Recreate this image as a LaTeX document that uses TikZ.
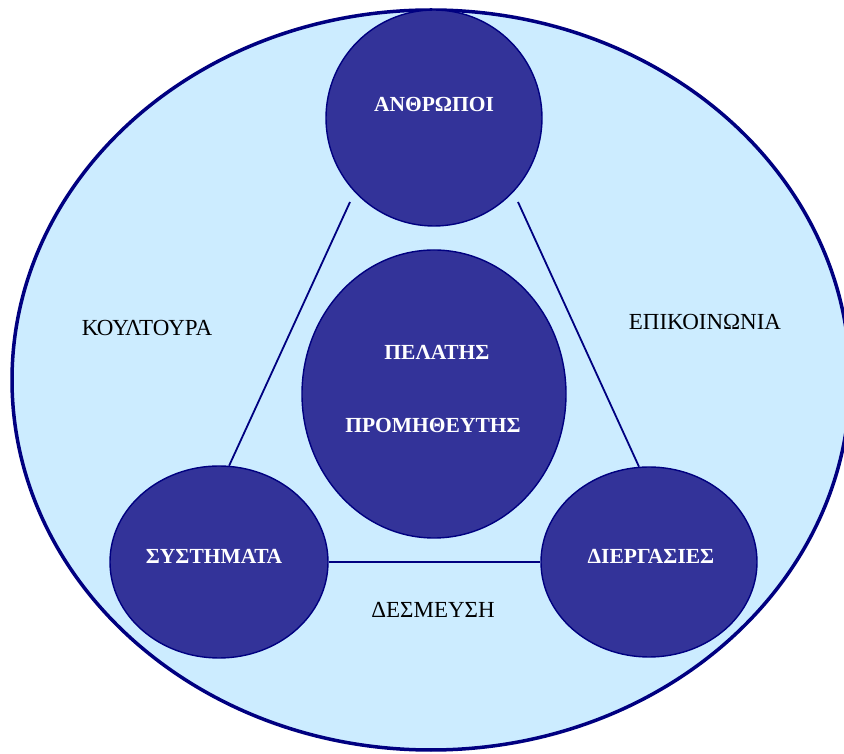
\documentclass[tikz,border=0pt]{standalone}
\usepackage{fontspec}
\setmainfont{Liberation Serif}
\usetikzlibrary{shapes.geometric}
\definecolor{outerfill}{RGB}{204,236,255}
\definecolor{edge}{RGB}{0,0,128}
\definecolor{blob}{RGB}{51,51,153}
\tikzset{
  x=1pt, y=1pt,
  blobnode/.style={ellipse, draw=edge, line width=1.4pt, fill=blob, inner sep=0pt},
  blobtext/.style={text=white, font=\fontsize{21.5}{24}\selectfont\bfseries, inner sep=0pt},
  plaintext/.style={text=black, font=\fontsize{23}{26}\selectfont, inner sep=0pt},
  link/.style={draw=edge, line width=1.8pt}
}
\begin{document}
\begin{tikzpicture}
\useasboundingbox (0,0) rectangle (844,753);
\fill[white] (0,0) rectangle (844,753);
% outer field
\node[ellipse, draw=edge, line width=3.5pt, fill=outerfill,
      minimum width=838, minimum height=740, inner sep=0pt] (field) at (431,373) {};

% four discs
\node[blobnode, minimum width=216, minimum height=216] (people) at (434,635) {};
\node[blobnode, minimum width=264, minimum height=288] (core) at (434,359) {};
\node[blobnode, minimum width=218, minimum height=192] (sys) at (219,191) {};
\node[blobnode, minimum width=216, minimum height=190] (proc) at (649,191) {};

% connectors
\coordinate (ltop) at (350,551);
\coordinate (rtop) at (518,551);
\draw[link] (ltop) -- (sys.84);
\draw[link] (rtop) -- (proc.96);
\draw[link] (sys.east) -- (proc.west);

% disc labels
\node[blobtext] (tpeople) at (434,649) {ΑΝΘΡΩΠΟΙ};
\node[blobtext] (tcust) at (437,401) {ΠΕΛΑΤΗΣ};
\node[blobtext] (tsupp) at (433,328) {ΠΡΟΜΗΘΕΥΤΗΣ};
\node[blobtext] (tsys) at (214,197) {ΣΥΣΤΗΜΑΤΑ};
\node[blobtext] (tproc) at (651,197) {ΔΙΕΡΓΑΣΙΕΣ};

% field labels
\node[plaintext] (culture) at (147,425) {ΚΟΥΛΤΟΥΡΑ};
\node[plaintext] (comm) at (705,431) {ΕΠΙΚΟΙΝΩΝΙΑ};
\node[plaintext] (commit) at (433,143) {ΔΕΣΜΕΥΣΗ};
\end{tikzpicture}
\end{document}
